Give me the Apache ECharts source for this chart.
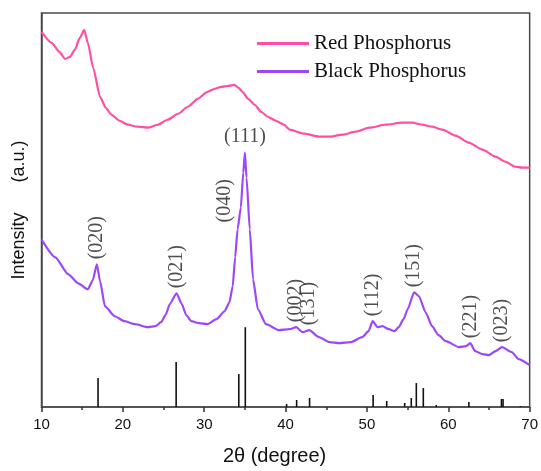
<!DOCTYPE html>
<html><head><meta charset="utf-8">
<script src="https://cdn.jsdelivr.net/npm/echarts@6/dist/echarts.min.js"></script>
<style>html,body{margin:0;padding:0;background:#fff}#c{width:541px;height:471px}</style>
</head><body><div id="c"></div>
<script>
const xTicks = [10, 20, 30, 40, 50, 60, 70];

const redAngles = [10, 11.25, 12.2, 12.9, 13.5, 14.1, 14.7, 15.25, 15.7, 16.35, 17.2, 17.9, 18.6, 19.6, 20.6, 21.8, 23.1, 24.3, 25.5, 26.8, 28.0, 29.2, 30.4, 31.3, 32.1, 33.0, 33.7, 34.2, 34.7, 35.4, 36.2, 37.0, 37.8, 38.8, 39.8, 40.5, 42.3, 44.1, 45.5, 47.0, 48.6, 50.3, 52.3, 54.3, 55.6, 56.8, 58.0, 59.3, 60.9, 62.5, 64.2, 65.8, 67.0, 68.2, 69.1, 70];
const redValues = [376, 365, 356, 349, 351, 358, 370, 378, 365, 340, 311, 300, 293, 287, 283, 281, 280, 283, 288, 294, 301, 309, 316, 319, 321, 322, 323, 320, 316, 309, 303, 296, 291, 287, 283, 278, 274, 271, 271, 273, 276, 280, 283, 285, 285, 283, 281, 278, 272, 265, 258, 251, 246, 241, 240, 240];

const blackAngles = [10.0, 11.7, 13.3, 14.5, 15.7, 16.3, 16.8, 17.2, 17.8, 19.0, 20.2, 21.5, 23.1, 24.0, 24.7, 25.3, 25.75, 26.6, 27.2, 27.8, 28.4, 29.4, 30.4, 31.5, 32.5, 33.1, 33.5, 33.8, 34.1, 34.5, 34.8, 35.0, 35.2, 35.6, 36.0, 36.6, 37.6, 39.2, 40.5, 41.3, 42.1, 42.9, 44.1, 45.4, 46.6, 48.0, 49.4, 50.2, 50.7, 51.3, 51.9, 52.7, 53.4, 53.9, 54.5, 55.0, 55.8, 56.4, 57.2, 58.0, 58.8, 59.7, 61.3, 62.2, 62.7, 63.3, 64.2, 65.0, 65.8, 66.6, 67.8, 68.65, 70];
const blackValues = [168, 150, 133, 124, 118, 127, 143, 126, 101, 91, 86, 83, 80, 81, 85, 93, 103, 114, 104, 92, 86, 84, 83, 88, 96, 105, 121, 150, 178, 200, 235, 255, 230, 178, 128, 98, 83, 77, 78, 80, 75, 77, 70, 65, 64, 65, 70, 76, 86, 80, 81, 78, 76, 80, 88, 98, 115, 111, 95, 81, 72, 66, 60, 61, 64, 56, 53, 52, 56, 60, 55, 48, 42];

const refAngles = [16.95, 26.55, 34.25, 35.05, 40.13, 41.36, 42.95, 50.76, 52.43, 54.64, 55.45, 56.07, 56.93, 58.52, 62.53, 66.53, 66.73, 68.86];
const refHeights = [29, 45, 33, 80, 3, 7, 9, 12, 6, 4, 9, 24, 19, 2, 5, 8, 8, 1];

const peakNames = ['(020)', '(021)', '(040)', '(111)', '(002)', '(131)', '(112)', '(151)', '(221)', '(023)'];
const peakAngles = [16.8, 26.6, 34.1, 35.0, 41.3, 42.9, 50.7, 55.8, 62.7, 66.6];
const peakValues = [143, 114, 178, 255, 80, 77, 86, 115, 64, 60];

const pink = '#ff4fa5';
const violet = '#9d48f8';
const frame = '#4a4a4a';

const zip = (a, b) => a.map((v, i) => [v, b[i]]);

const rotatedLabel = {
  show: true, rotate: 90, align: 'left', verticalAlign: 'middle',
  position: [0, -5], fontFamily: 'Liberation Serif', fontSize: 20, color: '#222'
};
const labelData = peakNames.map((n, i) => {
  const item = { value: [peakAngles[i], peakValues[i]], name: n };
  if (n === '(111)') {
    item.label = { rotate: 0, align: 'center', verticalAlign: 'bottom', position: [0, -6] };
  } else if (n === '(040)') {
    item.label = { position: [-13, -7] };
  }
  return item;
});

const chart = echarts.init(document.getElementById('c'), null, { renderer: 'canvas' });
chart.setOption({
  animation: false,
  backgroundColor: '#fff',
  grid: { left: 41.5, right: 10, top: 13, bottom: 63, show: true, borderColor: frame, borderWidth: 1.5 },
  legend: {
    orient: 'vertical', left: 257, top: 33, padding: 0,
    itemWidth: 52, itemHeight: 3, itemGap: 7, icon: 'rect',
    textStyle: { fontFamily: 'Liberation Serif', fontSize: 21, color: '#111' },
    data: ['Red Phosphorus', 'Black Phosphorus']
  },
  xAxis: {
    type: 'value', min: xTicks[0], max: xTicks[xTicks.length - 1], interval: xTicks[1] - xTicks[0],
    name: '2θ (degree)', nameLocation: 'middle', nameGap: 39,
    nameTextStyle: { fontFamily: 'Liberation Sans', fontSize: 20, color: '#111', padding: [0, 22, 0, 0] },
    axisLine: { lineStyle: { color: frame, width: 1.5 } },
    axisTick: { length: 5, lineStyle: { color: '#333', width: 1.5 } },
    minorTick: { show: true, splitNumber: 2, length: 3, lineStyle: { color: '#333', width: 1.5 } },
    axisLabel: { fontFamily: 'Liberation Sans', fontSize: 15, color: '#111', margin: 10 },
    splitLine: { show: false }, minorSplitLine: { show: false }
  },
  yAxis: {
    type: 'value', min: 0, max: 395,
    name: 'Intensity      (a.u.)', nameLocation: 'middle', nameGap: 13, nameRotate: 90,
    nameTextStyle: { fontFamily: 'Liberation Sans', fontSize: 18, color: '#111' },
    axisLine: { show: true, lineStyle: { color: frame, width: 1.5 } },
    axisTick: { show: false }, axisLabel: { show: false }, splitLine: { show: false }
  },
  series: [
    {
      name: 'Red Phosphorus', type: 'line', data: zip(redAngles, redValues),
      smooth: 0.2, smoothMonotone: 'x', showSymbol: false, symbol: 'none',
      lineStyle: { color: pink, width: 2.2 }, itemStyle: { color: pink }
    },
    {
      name: 'Black Phosphorus', type: 'line', data: zip(blackAngles, blackValues),
      smooth: 0.2, smoothMonotone: 'x', showSymbol: false, symbol: 'none',
      lineStyle: { color: violet, width: 2.2 }, itemStyle: { color: violet }
    },
    {
      name: 'reference', type: 'bar', data: zip(refAngles, refHeights),
      barWidth: 1.6, itemStyle: { color: '#111' }, silent: true
    },
    {
      name: 'peaks', type: 'scatter', data: labelData, symbolSize: 0, silent: true,
      itemStyle: { color: 'transparent' },
      label: Object.assign({ formatter: p => p.name }, rotatedLabel)
    }
  ]
});
</script>
</body></html>
